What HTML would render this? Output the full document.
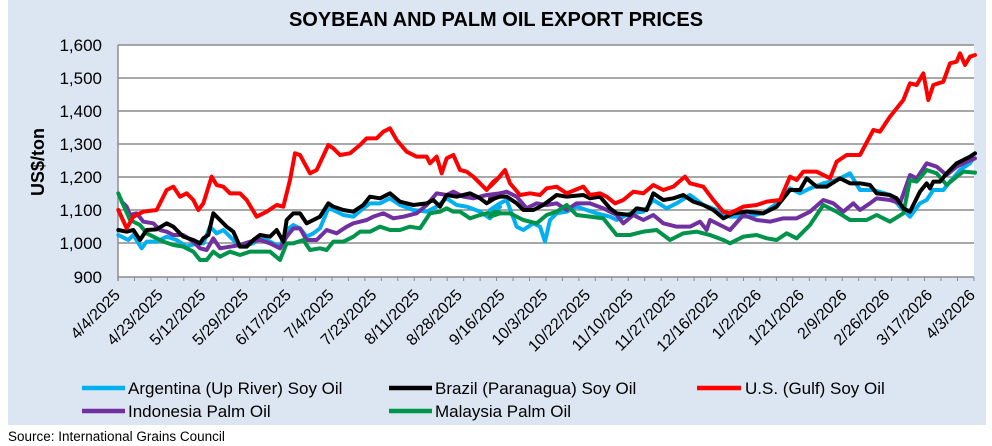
<!DOCTYPE html>
<html><head><meta charset="utf-8"><style>
body{margin:0;background:#fff;}
svg{display:block;font-family:"Liberation Sans",sans-serif;}
</style></head><body>
<svg width="992" height="446" viewBox="0 0 992 446">
<rect x="8" y="0" width="978" height="425" fill="#dce6f2"/>
<text x="496" y="26" text-anchor="middle" font-size="20" font-weight="bold" fill="#000">SOYBEAN AND PALM OIL EXPORT PRICES</text>
<rect x="118" y="45" width="856" height="232" fill="#fff"/>
<g stroke="#8c8c8c" stroke-width="1.5">
<line x1="118" y1="45" x2="974" y2="45"/><line x1="118" y1="78" x2="974" y2="78"/><line x1="118" y1="111" x2="974" y2="111"/><line x1="118" y1="144" x2="974" y2="144"/><line x1="118" y1="177" x2="974" y2="177"/><line x1="118" y1="210" x2="974" y2="210"/><line x1="118" y1="243" x2="974" y2="243"/><line x1="118" y1="277" x2="974" y2="277"/>
<line x1="118" y1="45" x2="118" y2="281"/>
</g>
<line x1="117.5" y1="279" x2="976" y2="279" stroke="#8c8c8c" stroke-width="4" stroke-dasharray="1 15.46"/>
<g font-size="17" text-anchor="end" fill="#000">
<text x="102" y="51">1,600</text><text x="102" y="84">1,500</text><text x="102" y="117">1,400</text><text x="102" y="150">1,300</text><text x="102" y="183">1,200</text><text x="102" y="216">1,100</text><text x="102" y="249">1,000</text><text x="102" y="283">900</text>
</g>
<text transform="translate(44,162) rotate(-90)" text-anchor="middle" font-size="18" font-weight="bold">US$/ton</text>
<g font-size="16" text-anchor="end" fill="#000">
<text transform="translate(121,296) rotate(-45)">4/4/2025</text>
<text transform="translate(163.75,296) rotate(-45)">4/23/2025</text>
<text transform="translate(206.5,296) rotate(-45)">5/12/2025</text>
<text transform="translate(249.25,296) rotate(-45)">5/29/2025</text>
<text transform="translate(292,296) rotate(-45)">6/17/2025</text>
<text transform="translate(334.75,296) rotate(-45)">7/4/2025</text>
<text transform="translate(377.5,296) rotate(-45)">7/23/2025</text>
<text transform="translate(420.25,296) rotate(-45)">8/11/2025</text>
<text transform="translate(463,296) rotate(-45)">8/28/2025</text>
<text transform="translate(505.75,296) rotate(-45)">9/16/2025</text>
<text transform="translate(548.5,296) rotate(-45)">10/3/2025</text>
<text transform="translate(591.25,296) rotate(-45)">10/22/2025</text>
<text transform="translate(634,296) rotate(-45)">11/10/2025</text>
<text transform="translate(676.75,296) rotate(-45)">11/27/2025</text>
<text transform="translate(719.5,296) rotate(-45)">12/16/2025</text>
<text transform="translate(762.25,296) rotate(-45)">1/2/2026</text>
<text transform="translate(805,296) rotate(-45)">1/21/2026</text>
<text transform="translate(847.75,296) rotate(-45)">2/9/2026</text>
<text transform="translate(890.5,296) rotate(-45)">2/26/2026</text>
<text transform="translate(933.25,296) rotate(-45)">3/17/2026</text>
<text transform="translate(976,296) rotate(-45)">4/3/2026</text>
</g>
<g fill="none" stroke-linejoin="round" stroke-linecap="round" stroke-width="4">
<g transform="translate(0,30) scale(0.33333)">
<polyline vector-effect="non-scaling-stroke" stroke="#00b0f0" points="355,615 385,630 400,615 425,655 440,635 470,635 500,620 530,630 560,650 590,640 610,640 630,590 650,610 670,600 700,630 720,650 760,640 780,620 810,635 840,650 860,600 880,585 900,595 920,620 940,610 960,595 985,535 1000,540 1030,555 1060,560 1090,535 1110,520 1140,520 1170,505 1200,525 1240,540 1280,545 1310,530 1340,505 1370,525 1400,530 1440,545 1470,565 1500,530"/>
<polyline vector-effect="non-scaling-stroke" stroke="#7030a0" points="365,515 380,530 390,555 410,550 430,575 460,580 480,600 500,605 520,615 550,615 580,635 600,655 620,660 640,625 660,655 690,650 720,645 750,635 780,630 810,640 840,655 860,620 880,595 900,595 920,630 950,630 980,600 1010,610 1040,590 1060,580 1080,575 1100,570 1120,560 1150,550 1180,565 1210,560 1250,550 1280,525 1310,490 1340,495 1360,485 1390,500 1420,505 1460,495 1500,490"/>
<polyline vector-effect="non-scaling-stroke" stroke="#00934a" points="355,490 370,525 390,570 420,585 440,610 460,620 490,635 520,645 550,650 580,665 600,690 620,690 640,665 660,680 690,665 720,675 750,665 780,665 810,665 840,690 860,640 880,640 910,630 930,660 960,655 980,660 1000,635 1030,635 1060,620 1080,605 1110,605 1140,590 1170,600 1200,600 1230,590 1260,595 1290,550 1320,545 1340,535 1360,545 1380,545 1410,565 1440,555 1480,545 1500,548"/>
<polyline vector-effect="non-scaling-stroke" stroke="#000" points="355,600 380,605 400,600 420,630 440,600 470,598 500,580 520,590 550,620 580,630 600,640 610,625 625,615 640,550 660,570 680,590 700,605 720,650 740,650 760,630 780,615 810,620 830,600 850,635 860,570 880,550 900,550 920,580 940,570 960,560 985,520 1000,530 1030,540 1060,545 1090,525 1110,500 1140,505 1170,490 1200,515 1240,525 1280,520 1300,510 1320,530 1340,495 1370,500 1390,495 1410,490 1440,505 1460,520 1500,495"/>
<polyline vector-effect="non-scaling-stroke" stroke="#ff0000" points="355,540 380,595 400,560 430,545 470,540 500,480 520,470 540,500 560,490 580,510 595,540 610,520 635,440 650,465 670,470 690,490 720,490 740,510 770,560 800,545 830,525 850,530 870,450 885,370 900,375 930,430 950,420 985,345 1000,355 1020,375 1050,370 1080,345 1100,325 1130,325 1150,305 1170,295 1190,330 1220,365 1250,380 1280,380 1290,400 1310,380 1325,430 1340,385 1360,375 1380,420 1400,425 1420,440 1440,460 1460,480 1480,455 1500,440"/>
</g>
<g transform="translate(490,30) scale(0.33333)">
<polyline vector-effect="non-scaling-stroke" stroke="#00b0f0" points="0,540 30,520 50,510 80,590 100,600 130,580 150,590 165,635 180,570 200,550 230,545 260,530 290,540 320,550 360,560 380,570 420,550 460,545 490,510 530,535 560,520 600,495 640,525 680,540 720,560 770,560 820,550 860,520 900,475 930,490 960,475 1000,460 1040,450 1080,430 1110,480 1150,480 1200,495 1230,530 1260,560 1290,520 1310,510 1330,480 1360,480 1380,455 1410,420 1440,400 1450,385"/>
<polyline vector-effect="non-scaling-stroke" stroke="#7030a0" points="0,505 30,490 50,485 80,500 110,535 140,520 170,525 200,520 230,540 260,520 300,520 340,535 380,555 400,580 430,555 460,570 490,555 520,580 560,590 600,590 630,575 650,600 660,570 690,585 720,600 760,555 800,570 840,575 880,565 920,565 960,545 1000,510 1030,520 1060,545 1090,520 1110,540 1140,520 1160,505 1200,510 1230,520 1260,435 1280,445 1310,400 1340,410 1370,435 1400,410 1430,395 1455,385"/>
<polyline vector-effect="non-scaling-stroke" stroke="#00934a" points="0,560 30,550 60,550 100,570 140,580 170,555 200,545 230,525 260,555 300,560 340,565 380,615 420,615 460,605 500,600 540,630 580,610 620,605 660,615 700,630 720,640 760,620 800,615 830,625 860,630 890,610 920,625 960,585 1000,525 1040,545 1080,570 1130,570 1160,555 1200,575 1240,550 1260,450 1280,455 1310,420 1340,430 1370,465 1400,440 1420,425 1455,428"/>
<polyline vector-effect="non-scaling-stroke" stroke="#000" points="0,510 30,500 50,500 80,520 100,540 130,540 160,525 200,495 230,500 280,495 300,505 330,500 360,535 380,550 420,555 440,535 470,540 490,490 520,510 550,505 580,495 610,515 640,525 670,540 700,565 730,550 770,545 820,550 860,530 900,480 930,480 950,445 980,470 1010,470 1050,445 1080,460 1110,460 1140,465 1160,490 1200,495 1220,505 1240,535 1260,545 1290,485 1310,460 1320,475 1330,455 1350,455 1370,430 1400,400 1420,390 1440,380 1455,370"/>
<polyline vector-effect="non-scaling-stroke" stroke="#ff0000" points="0,470 20,450 45,420 60,460 90,495 120,490 150,495 170,475 200,470 230,490 280,470 300,495 330,490 350,500 375,520 400,510 430,485 460,490 490,465 520,480 550,470 585,440 600,460 640,470 670,510 700,545 720,550 760,530 800,525 830,515 870,510 900,440 920,450 940,425 980,425 1020,445 1040,395 1070,375 1110,375 1150,300 1170,305 1200,260 1220,235 1240,210 1260,160 1280,165 1300,130 1315,210 1330,165 1360,155 1380,100 1400,95 1410,70 1425,105 1440,80 1455,75"/>
</g>
</g>
<g stroke-width="4.5">
<line x1="82" y1="388" x2="125" y2="388" stroke="#00b0f0"/>
<line x1="389" y1="388" x2="432" y2="388" stroke="#000"/>
<line x1="697" y1="388" x2="741" y2="388" stroke="#ff0000"/>
<line x1="82" y1="411" x2="125" y2="411" stroke="#7030a0"/>
<line x1="389" y1="411" x2="432" y2="411" stroke="#00934a"/>
</g>
<g font-size="17" fill="#000">
<text x="128" y="394">Argentina (Up River) Soy Oil</text>
<text x="435" y="394">Brazil (Paranagua) Soy Oil</text>
<text x="745" y="394">U.S. (Gulf) Soy Oil</text>
<text x="128" y="417">Indonesia Palm Oil</text>
<text x="435" y="417">Malaysia Palm Oil</text>
</g>
<text x="8" y="441" font-size="13.5" fill="#000">Source: International Grains Council</text>
</svg>
</body></html>
